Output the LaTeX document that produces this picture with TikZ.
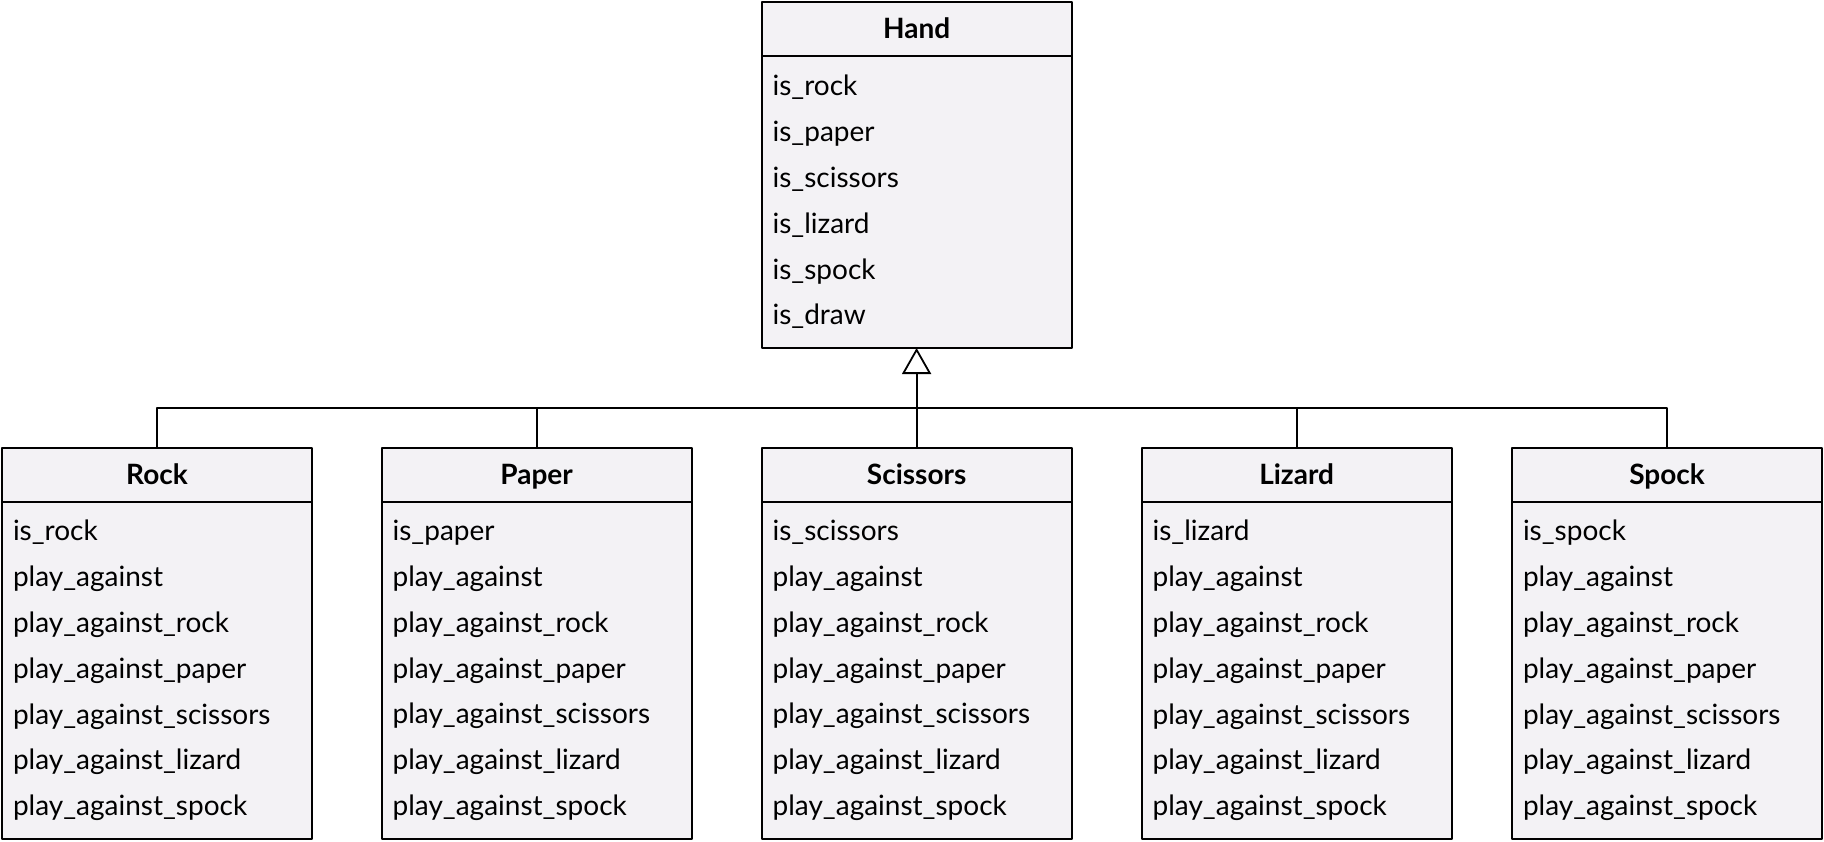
\documentclass[tikz,border=0pt]{standalone}
\usepackage{fontspec}
\setmainfont{Lato}
\usetikzlibrary{arrows.meta, positioning}
\definecolor{classfill}{RGB}{243, 242, 245}
\tikzset{
    every path/.style={line cap=round, line join=round},
    classhead/.style={draw, fill=classfill, line width=0.9pt, minimum width=155pt, minimum height=27pt, inner sep=0pt, outer sep=0pt, text height=14.7pt, text depth=5pt, font=\fontsize{14}{17}\selectfont\bfseries},
    classbody/.style={draw, fill=classfill, line width=0.9pt, text width=144pt, inner xsep=5.5pt, inner ysep=0pt, outer sep=0pt, align=left, font=\fontsize{14}{22.9}\selectfont},
    >={Triangle[open, length=13pt, width=14.5pt]}
}

\begin{document}
\begin{tikzpicture}
    \useasboundingbox (0,0) rectangle (912pt,-420.5pt);
    % base class
    \node [classhead] (hand) at (458.3pt, -14.5pt) {Hand};
    \node [classbody, minimum height=146pt, below=0pt of hand] (hand-body) {
        is\_rock\\ is\_paper\\ is\_scissors\\ is\_lizard\\ is\_spock\\ is\_draw
    };
    % subclasses
    \foreach \name/\title/\cx in {rock/Rock/78.5, paper/Paper/268.3, scissors/Scissors/458.3, lizard/Lizard/648.3, spock/Spock/833.5} {
        \node [classhead] (\name) at (\cx pt, -237.5pt) {\title};
        \node [classbody, minimum height=168.5pt, below=0pt of \name] (\name-body) {
            is\_\name\\ play\_against\\ play\_against\_rock\\ play\_against\_paper\\
            play\_against\_scissors\\ play\_against\_lizard\\ play\_against\_spock
        };
    }
    \coordinate (bus) at (0, -204pt);
    \draw [line width=0.9pt] (rock.north) |- (spock.north |- bus) -- (spock.north);
    \foreach \name in {paper, lizard}
        \draw [line width=0.9pt] (\name.north) -- (\name.north |- bus);
    \draw [line width=0.9pt, ->] (scissors.north) -- (hand-body.south);
\end{tikzpicture}
\end{document}
